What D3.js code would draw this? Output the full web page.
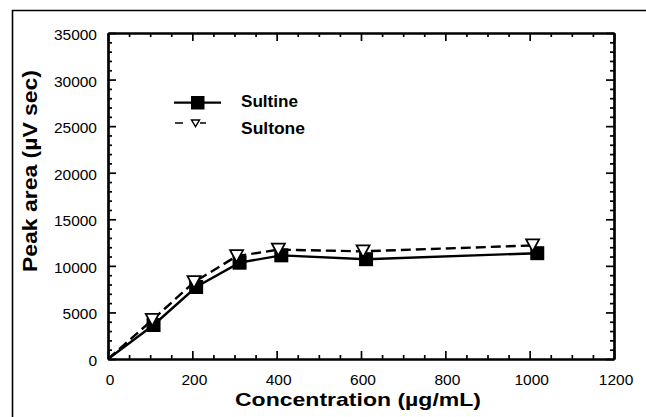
<!DOCTYPE html>
<html>
<head>
<meta charset="utf-8">
<script src="https://cdn.jsdelivr.net/npm/d3@7"></script>
<style>
  html, body { margin: 0; padding: 0; background: #fff; overflow: hidden; }
  svg { display: block; }
  text { font-family: "Liberation Sans", Arial, Helvetica, sans-serif; fill: #000; }
</style>
</head>
<body>
<svg id="chart" width="646" height="417"></svg>
<script>
// Peak area versus concentration for sultine and sultone
const concSultine = [0, 108, 209, 312, 411, 612, 1018];
const areaSultine = [0, 3650, 7730, 10340, 11130, 10715, 11360];
const concSultone = [0, 105, 204, 305, 404, 605, 1007];
const areaSultone = [0, 4190, 8245, 11040, 11740, 11560, 12190];

const xMajorTicks = [0, 200, 400, 600, 800, 1000, 1200];
const yMajorTicks = [0, 5000, 10000, 15000, 20000, 25000, 30000, 35000];
const seriesNames = ["Sultine", "Sultone"];
const xTitle = "Concentration (µg/mL)";
const yTitle = "Peak area (µV sec)";

const W = 646, H = 417;
const plot = { left: 108, right: 614, top: 33, bottom: 359 };

const svg = d3.select("#chart");

// outer figure frame: only its top and left edges fall inside the page
svg.append("path")
  .attr("d", `M12.5,${H}V10.5H${W}`)
  .attr("fill", "none").attr("stroke", "#000").attr("stroke-width", 1.6);

const x = d3.scaleLinear().domain([0, 1200]).range([plot.left, plot.right]);
const y = d3.scaleLinear().domain([0, 35000]).range([plot.bottom, plot.top]);

const xMinor = d3.range(0, 1201, 50).filter(v => v % 200 !== 0);
const yMinor = d3.range(0, 35001, 1000).filter(v => v % 5000 !== 0);

function styleAxis(g) {
  g.selectAll(".domain").attr("stroke", "#000").attr("stroke-width", 2.2);
  g.selectAll(".tick line").attr("stroke", "#000").attr("stroke-width", 1.7);
}

// minor ticks, all four sides, pointing inward
const minorAxes = [
  [d3.axisBottom(x).tickValues(xMinor), `translate(0,${plot.bottom})`],
  [d3.axisTop(x).tickValues(xMinor), `translate(0,${plot.top})`],
  [d3.axisLeft(y).tickValues(yMinor), `translate(${plot.left},0)`],
  [d3.axisRight(y).tickValues(yMinor), `translate(${plot.right},0)`]
];
minorAxes.forEach(([ax, tr]) => {
  svg.append("g").attr("transform", tr)
    .call(ax.tickSize(-4).tickSizeOuter(0).tickFormat(""))
    .call(styleAxis);
});

// major ticks without labels on top and right
svg.append("g").attr("transform", `translate(0,${plot.top})`)
  .call(d3.axisTop(x).tickValues(xMajorTicks).tickSize(-8).tickSizeOuter(0).tickFormat(""))
  .call(styleAxis);
svg.append("g").attr("transform", `translate(${plot.right},0)`)
  .call(d3.axisRight(y).tickValues(yMajorTicks).tickSize(-8).tickSizeOuter(0).tickFormat(""))
  .call(styleAxis);

// labelled bottom axis
const gx = svg.append("g").attr("transform", `translate(0,${plot.bottom})`)
  .call(d3.axisBottom(x).tickValues(xMajorTicks).tickSize(-8).tickSizeOuter(0).tickFormat(d3.format("d")))
  .call(styleAxis);
gx.selectAll(".tick text")
  .attr("y", 26).attr("dy", 0).attr("dx", 1.5)
  .style("font-size", "15.5px").attr("fill", "#000");

// labelled left axis
const gy = svg.append("g").attr("transform", `translate(${plot.left},0)`)
  .call(d3.axisLeft(y).tickValues(yMajorTicks).tickSize(-8).tickSizeOuter(0).tickFormat(d3.format("d")))
  .call(styleAxis);
gy.selectAll(".tick text")
  .attr("x", -11).attr("dy", 0).attr("y", 6.5)
  .style("font-size", "15.5px").attr("fill", "#000");

// axis titles
svg.append("text")
  .attr("x", 235).attr("y", 406)
  .attr("textLength", 246).attr("lengthAdjust", "spacingAndGlyphs")
  .style("font-size", "18.5px").style("font-weight", "bold")
  .text(xTitle);

svg.append("text")
  .attr("transform", "translate(37,272) rotate(-90)")
  .attr("x", 0).attr("y", 0)
  .attr("textLength", 202).attr("lengthAdjust", "spacingAndGlyphs")
  .style("font-size", "20px").style("font-weight", "bold")
  .text(yTitle);

// series data
const sultine = concSultine.map((c, i) => ({ c, a: areaSultine[i] }));
const sultone = concSultone.map((c, i) => ({ c, a: areaSultone[i] }));

const line = d3.line().x(d => x(d.c)).y(d => y(d.a));

svg.append("path").datum(sultine)
  .attr("d", line).attr("fill", "none")
  .attr("stroke", "#000").attr("stroke-width", 2.4);

svg.append("path").datum(sultone)
  .attr("d", line).attr("fill", "none")
  .attr("stroke", "#000").attr("stroke-width", 2.4)
  .attr("stroke-dasharray", "10,5");

function triPath(cx, cy, w, h) {
  const p = d3.path();
  p.moveTo(cx - w / 2, cy - h / 2);
  p.lineTo(cx + w / 2, cy - h / 2);
  p.lineTo(cx, cy + h / 2);
  p.closePath();
  return p.toString();
}

const sq = 14;
svg.append("g").selectAll("rect")
  .data(sultine.filter(d => d.c > 0))
  .join("rect")
  .attr("x", d => x(d.c) - sq / 2).attr("y", d => y(d.a) - sq / 2)
  .attr("width", sq).attr("height", sq)
  .attr("fill", "#000");

svg.append("g").selectAll("path")
  .data(sultone.filter(d => d.c > 0))
  .join("path")
  .attr("d", d => triPath(x(d.c), y(d.a), 13, 12))
  .attr("fill", "#fff").attr("stroke", "#000").attr("stroke-width", 1.8);

// legend
const lg = svg.append("g");
lg.append("line").attr("x1", 174).attr("x2", 221).attr("y1", 102.7).attr("y2", 102.7)
  .attr("stroke", "#000").attr("stroke-width", 2.2);
lg.append("rect").attr("x", 191).attr("y", 96).attr("width", 13.5).attr("height", 13.5).attr("fill", "#000");
lg.append("text").attr("x", 241).attr("y", 107)
  .attr("textLength", 57).attr("lengthAdjust", "spacingAndGlyphs")
  .style("font-size", "16px").style("font-weight", "bold").text(seriesNames[0]);

lg.append("line").attr("x1", 175).attr("x2", 206).attr("y1", 123).attr("y2", 123)
  .attr("stroke", "#000").attr("stroke-width", 1.6).attr("stroke-dasharray", "8,17,6");
lg.append("path").attr("d", triPath(195.5, 123.3, 8, 6.5))
  .attr("fill", "#fff").attr("stroke", "#000").attr("stroke-width", 1.4);
lg.append("text").attr("x", 241).attr("y", 133.5)
  .attr("textLength", 64).attr("lengthAdjust", "spacingAndGlyphs")
  .style("font-size", "16px").style("font-weight", "bold").text(seriesNames[1]);
</script>
</body>
</html>
